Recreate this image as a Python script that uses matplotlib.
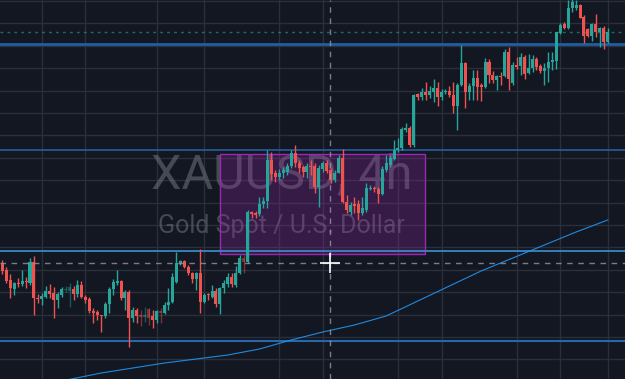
import matplotlib
matplotlib.use("Agg")
import matplotlib.pyplot as plt
from matplotlib.patches import Rectangle
import numpy as np

# ---- candle data (XAUUSD 4h) ----
opens = [1737,1730,1720,1711,1717,1716,1719,1717,1738,1702,1701,1703,1709,1707,1700,1705,1710,1709,1711,1706,
         1715,1703,1701,1689,1688,1685,1684,1696,1711,1717,1719,1702,1708,1682,1690,1685,1683,1691,1684,1680,
         1689,1687,1695,1698,1718,1737,1739,1733,1727,1721,1727,1698,1706,1703,1709,1696,1712,1716,1723,1715,
         1727,1742,1738,1788,1787,1786,1796,1799,1840,1827,1823,1827,1828,1834,1847,1837,1833,1828,1834,1834,
         1813,1831,1837,1830,1820,1827,1842,1798,1788,1796,1796,1787,1790,1811,1812,1811,1806,1830,1835,1841,
         1850,1852,1870,1872,1855,1906,1903,1908,1905,1908,1912,1903,1908,1909,1905,1894,1915,1937,1908,1914,
         1922,1915,1913,1938,1925,1920,1924,1924,1948,1917,1935,1934,1943,1927,1932,1941,1934,1929,1932,1938,
         1939,1967,1976,1972,1992,1992,1995,1983,1971,1964,1976,1968,1972,1958]
highs = [1740,1733,1726,1718,1722,1730,1723,1742,1744,1706,1707,1714,1716,1713,1708,1713,1714,1717,1714,1720,
         1719,1705,1703,1692,1690,1685,1698,1713,1721,1730,1720,1710,1710,1693,1692,1690,1693,1692,1690,1690,
         1692,1698,1712,1727,1748,1740,1740,1735,1728,1728,1751,1707,1707,1715,1712,1713,1720,1727,1727,1734,
         1745,1745,1790,1789,1789,1803,1803,1850,1848,1830,1831,1833,1837,1850,1855,1840,1835,1837,1840,1837,
         1835,1839,1840,1832,1830,1845,1851,1805,1798,1803,1800,1803,1817,1815,1814,1813,1834,1845,1845,1860,
         1862,1873,1877,1874,1906,1907,1912,1918,1914,1921,1918,1911,1911,1914,1918,1917,1955,1938,1917,1930,
         1930,1917,1942,1941,1929,1925,1928,1951,1953,1938,1943,1947,1945,1946,1945,1943,1936,1937,1948,1948,
         1968,1977,1978,2000,2003,2000,1996,1985,1972,1977,1986,1973,1974,1972]
lows = [1726,1717,1702,1705,1713,1714,1712,1715,1685,1697,1695,1702,1702,1682,1692,1703,1708,1693,1700,1703,
        1702,1697,1687,1677,1680,1668,1682,1687,1705,1715,1700,1690,1653,1678,1677,1674,1678,1675,1672,1677,
        1677,1686,1690,1697,1717,1735,1732,1725,1717,1710,1687,1697,1700,1702,1693,1686,1707,1713,1713,1713,
        1726,1727,1737,1782,1782,1784,1792,1792,1820,1818,1821,1822,1825,1832,1833,1827,1823,1822,1825,1807,
        1793,1828,1827,1817,1818,1827,1797,1787,1785,1787,1780,1785,1788,1810,1808,1797,1805,1828,1833,1840,
        1848,1850,1868,1853,1853,1900,1900,1900,1902,1898,1894,1900,1906,1903,1887,1870,1914,1892,1900,1900,
        1900,1899,1912,1917,1917,1910,1915,1923,1910,1915,1931,1925,1921,1926,1928,1930,1927,1915,1918,1930,
        1931,1966,1971,1971,1988,1990,1982,1957,1963,1959,1963,1953,1951,1957]
closes = [1729,1719,1712,1717,1716,1719,1718,1738,1702,1701,1704,1709,1706,1700,1706,1711,1711,1713,1706,1715,
          1703,1700,1689,1687,1685,1684,1696,1711,1718,1719,1702,1708,1682,1690,1684,1683,1685,1682,1680,1689,
          1687,1695,1698,1723,1737,1739,1733,1727,1721,1727,1698,1705,1705,1709,1696,1712,1717,1723,1716,1727,
          1742,1738,1788,1786,1785,1796,1799,1840,1826,1823,1827,1830,1834,1847,1837,1832,1828,1834,1833,1813,
          1832,1837,1829,1820,1827,1842,1798,1790,1795,1794,1787,1792,1812,1812,1811,1806,1831,1837,1842,1850,
          1852,1871,1872,1855,1905,1903,1908,1905,1909,1912,1903,1908,1909,1905,1894,1915,1937,1908,1914,1922,
          1913,1913,1938,1925,1920,1924,1923,1948,1921,1935,1933,1943,1926,1932,1941,1933,1929,1932,1938,1940,
          1968,1975,1972,1992,1998,1995,1982,1964,1964,1976,1968,1972,1958,1968]
dim_candles = [16, 17, 35, 36, 37, 40, 61]

# horizontal levels drawn on the chart
blue_levels = [1956, 1850, 1749, 1659]
crosshair_price = 1737
crosshair_bar = 82.8
zone_bars = (55.0, 106.8)
zone_prices = (1746, 1846)

# moving average (read points)
ma_bars = [15, 25, 33, 41, 49, 57, 65, 73, 81, 89, 97, 105, 113, 121, 129, 137, 145, 153]
ma_vals = [1619, 1627, 1632, 1637, 1641, 1645, 1651, 1660, 1668, 1675, 1684, 1699, 1714, 1729, 1742, 1755, 1768, 1780]

grid_bars = [10, 21, 39, 51, 70, 81, 100, 111, 130, 141, 153]
grid_prices = [1999 - 22.4 * i for i in range(18)]

BG = "#131722"
UP = "#26a69a"
DN = "#ef5350"

fig = plt.figure(figsize=(6.25, 3.79), dpi=100, facecolor=BG)
ax = fig.add_axes([0, 0, 1, 1])
ax.set_facecolor(BG)
n = len(opens)
ax.set_xlim(-0.581, 157.37)
ax.set_ylim(1621, 2000)

for gx in grid_bars:
    ax.axvline(gx, color="#2b2f3a", lw=1.0, zorder=0)
for gy in grid_prices:
    ax.axhline(gy, color="#2b2f3a", lw=1.0, zorder=0)

# watermark (behind everything else)
ax.text(0.45, 0.536, "XAUUSD, 4h", ha="center", va="center", fontsize=35,
        family="Roboto", color="#787b86", alpha=0.5, transform=ax.transAxes, zorder=0.5)
ax.text(0.45, 0.404, "Gold Spot / U.S. Dollar", ha="center", va="center", fontsize=18,
        family="Roboto", color="#787b86", alpha=0.5, transform=ax.transAxes, zorder=0.5)

# zone rectangle
ax.add_patch(Rectangle((zone_bars[0], zone_prices[0]), zone_bars[1] - zone_bars[0],
                       zone_prices[1] - zone_prices[0], facecolor="#9c27b0", alpha=0.25,
                       edgecolor="none", zorder=1))
ax.add_patch(Rectangle((zone_bars[0], zone_prices[0]), zone_bars[1] - zone_bars[0],
                       zone_prices[1] - zone_prices[0], facecolor="none",
                       edgecolor="#9c27b0", lw=1.0, zorder=1))

# level lines
ax.axhline(blue_levels[0], color="#1e5fa4", lw=2.0, zorder=2)
ax.axhline(blue_levels[1], color="#2764a6", lw=1.1, zorder=2)
ax.axhline(blue_levels[2], color="#3a86c4", lw=1.3, zorder=2)
ax.axhline(blue_levels[3], color="#2768ad", lw=1.5, zorder=2)

# moving average
ax.plot(ma_bars, ma_vals, color="#2196f3", lw=0.8, alpha=0.9, zorder=3)

# candles
for i in range(n):
    o, h, l, c = opens[i], highs[i], lows[i], closes[i]
    col = UP if c >= o else DN
    a = 0.45 if i in dim_candles else 1.0
    ax.vlines(i, l, h, color=col, lw=1.0, alpha=a, zorder=4)
    bottom = min(o, c)
    height = max(abs(c - o), 1.0)
    ax.bar(i, height, bottom=bottom, width=0.76, color=col, alpha=a, linewidth=0, zorder=5)

# last price line
ax.axhline(closes[-1], color=UP, lw=1.0, ls=(0, (2, 3)), alpha=0.6, zorder=3)

# crosshair
ax.axvline(crosshair_bar, color="#9598a1", lw=1.0, ls=(0, (4, 4)), alpha=0.8, zorder=6)
ax.axhline(crosshair_price, color="#9598a1", lw=1.0, ls=(0, (4, 4)), alpha=0.8, zorder=6)
ax.plot([crosshair_bar], [crosshair_price], marker="+", ms=14, mew=1.2, color="white", zorder=7)

ax.set_axis_off()
fig.savefig("out.png", dpi=100, facecolor=BG)
